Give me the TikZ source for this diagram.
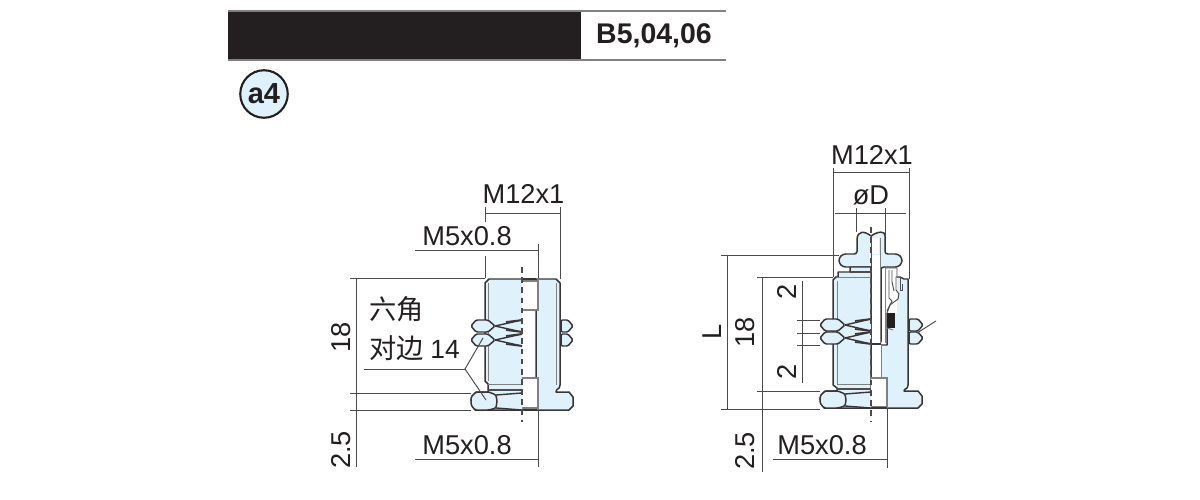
\documentclass[tikz,border=0pt]{standalone}
\usepackage{fontspec}
\setmainfont{Liberation Sans}
\newfontfamily\cjk{Noto Sans CJK SC}
\definecolor{bodyblue}{HTML}{DFF2FB}
\definecolor{inkdark}{HTML}{231F20}
\definecolor{dimgray}{HTML}{4A4A4A}
\definecolor{boregray}{HTML}{808080}
\tikzset{
  outline/.style={draw=inkdark!90,line width=0.85pt,line join=round,fill=bodyblue},
  thinline/.style={draw=boregray,line width=0.55pt},
  dimline/.style={draw=dimgray,line width=0.55pt},
  centerline/.style={draw=dimgray,line width=0.7pt,dash pattern=on 3.2pt off 2.6pt},
  borewhite/.style={draw=boregray,line width=0.7pt,fill=white},
  fanline/.style={draw=inkdark!90,line width=0.8pt},
  label/.style={font=\fontsize{15.5}{15}\selectfont,text=inkdark,inner sep=0pt},
}
% small hex nut, left half: xl, xm, xr, ytop, ybot
\newcommand{\nutleft}[5]{%
  \pgfmathsetmacro{\ymid}{(#4+#5)/2}
  \path[fill=bodyblue] (#2,\ymid) -- (#3,#4) -- (#3,#5) -- cycle;
  \draw[fanline] (#2,\ymid) -- (#3,#4) (#2,\ymid) -- (#3,#5);
  \draw[fanline,line width=1pt] (#3-16,#4+2) -- (#3,#4) (#3-16,#5-2) -- (#3,#5);
  \path[outline,rounded corners=0.8pt] (#1,\ymid) -- (#1+5,#4) -- (#2-7,#4) -- (#2,\ymid) -- (#2-7,#5) -- (#1+5,#5) -- cycle;
}
% flange hex, left half: xl, xm, xr, ytop, ybot
\newcommand{\flangeleft}[5]{%
  \path[fill=bodyblue] (#2,#4+3) -- (#3,#4) -- (#3,#5) -- (#2,#5-2) -- cycle;
  \draw[fanline] (#2,#4+3) -- (#3,#4+1) (#2,#5-2) -- (#3,#5);
  \path[outline,rounded corners=0.8pt] (#1,#4+5) -- (#1+5,#4) -- (#2-7,#4) -- (#2,#4+3) -- (#2+1,#4+9) -- (#2,#5-2) -- (#2-7,#5) -- (#1+4,#5) -- (#1,#5-5) -- cycle;
}
\newcommand{\nutright}[4]{% xl, xr, ytop, ybot
  \pgfmathsetmacro{\ymid}{(#3+#4)/2}
  \path[outline,rounded corners=0.8pt] (#1,#3) -- (#2-5,#3) -- (#2,\ymid) -- (#2-5,#4) -- (#1,#4) -- cycle;
}
\begin{document}
\begin{tikzpicture}[x=0.02cm,y=-0.02cm]
\useasboundingbox (0,0) rectangle (1200,500);
\fill[white] (0,0) rectangle (1200,500);

% ---------- header ----------
\fill[inkdark] (228,11) rectangle (581,60);
\draw[boregray,line width=0.8pt] (228,11) -- (726,11) (228,60) -- (726,60);
\node[font=\fontsize{16.2}{16}\bfseries\selectfont,text=inkdark,inner sep=0pt] (series) at (654,36) {B5,04,06};
\node[circle,draw=inkdark,line width=1.2pt,fill=bodyblue,minimum size=0.95cm,inner sep=0pt,font=\fontsize{16.5}{15}\bfseries\selectfont,text=inkdark] (badge) at (264,94) {a4};

% ---------- left drawing ----------
\path[outline] (536,279) -- (556,279) -- (560,283) -- (560,385) .. controls (560,390) and (556,388) .. (556,392) -- (569,392) -- (573,397) -- (573,406) -- (569,410) -- (536,410) -- cycle;
\path[outline] (522,279) -- (489,279) -- (485,283) -- (485,381) -- (488,384) -- (488,392) -- (476,392) -- (471,400) -- (475,410) -- (522,410);
\fill[white] (522,280) rectangle (535,409);
\draw[thinline] (535,279) -- (535,410);
\draw[thinline] (488,283) -- (488,381);
\draw[thinline] (556,283) -- (556,385);
\draw[inkdark!90,line width=0.8pt] (522,279) -- (536,279) (522,410) -- (536,410);
\draw[borewhite] (522,281) -- (538,281) -- (538,310) -- (522,310);
\draw[borewhite] (522,378) -- (538,378) -- (538,408) -- (522,408);
\draw[thinline] (488,384) -- (522,384);
\draw[inkdark!80,line width=0.7pt] (488,390) -- (522,390);
\nutleft{471}{495}{522}{320}{332}
\nutleft{471}{495}{522}{334}{346}
\flangeleft{471}{496}{522}{392}{410}
\nutright{561}{573}{320}{332}
\nutright{561}{573}{334}{346}
\draw[centerline] (522,267) -- (522,422);

% left dimensions
\draw[dimline] (350,278) -- (485,278);
\draw[dimline] (350,393) -- (471,393);
\draw[dimline] (350,410) -- (471,410);
\draw[dimline] (356,278) -- (356,467);
\draw[dimline] (485,207) -- (485,222) (485,256) -- (485,278);
\draw[dimline] (560,207) -- (560,279);
\draw[dimline] (485,213) -- (560,213);
\draw[dimline] (415,250) -- (538,250);
\draw[dimline] (538,244) -- (538,278) (538,410) -- (538,467);
\draw[dimline] (415,459) -- (538,459);
\draw[dimline] (364,369) coordinate (leadstart) -- (465,369) coordinate (leadfork);
\coordinate (leadup) at (483,338);
\coordinate (leaddown) at (486,400);
\draw[dimline] (leadup) -- (leadfork) -- (leaddown);

\node[label] (lm12) at (523.5,194) {M12x1};
\node[label] (lm5top) at (467,236) {M5x0.8};
\node[label] (lm5bot) at (467,445) {M5x0.8};
\node[label,rotate=90] (l18) at (341,337) {18};
\node[label,rotate=90] (l25) at (341,450) {2.5};
\node[label,font=\cjk\fontsize{15.5}{15}\selectfont] (lhexa) at (396.5,309) {六角};
\node[label,font=\cjk\fontsize{15.5}{15}\selectfont] (lhexb) at (396.5,348) {对边};
\node[label,font=\fontsize{15}{15}\selectfont] (lhexc) at (445,349) {14};

% ---------- right drawing ----------
% right half
\path[outline] (887,277) -- (900,277) -- (904,279) -- (908,279) -- (908,385) .. controls (908,390) and (904,388) .. (904,391) -- (918,391) -- (922,396) -- (922,404) -- (918,408) -- (881,408) -- (881,345) -- (887,345) -- cycle;
% tube on the right of the axis
\path[outline,rounded corners=1.5pt] (871,254) -- (871,344) -- (881,344) -- (881,267) -- (898,267) -- (902,263) -- (902,258) -- (898,254) -- (885,254) -- (885,238) [sharp corners] .. controls (885,231) and (878,231) .. (871,236) -- cycle;
% left half
\path[outline,rounded corners=1.5pt] (871,236) [sharp corners] .. controls (865,231) and (857,230) .. (857,240) [rounded corners=1.5pt] -- (857,254) -- (843,254) -- (839,258) -- (839,263) -- (843,267) -- (871,267);
\path[outline] (850,267) -- (850,272) -- (838,272) -- (838,277) -- (836,277) -- (833,280) -- (833,385) -- (837,388) -- (837,391) -- (825,391) -- (820,399) -- (824,408) -- (871,408) -- (871,267) -- cycle;
\fill[white] (872,255) rectangle (880,343);
\fill[white] (872,238) rectangle (879,254);
\fill[white] (871.5,345) rectangle (880.5,378);
\draw[thinline] (880,238) -- (880,344);
\draw[thinline] (881,345) -- (881,380);
\draw[inkdark!90,line width=0.7pt] (871,344) -- (881,344);
\draw[borewhite] (871,378) -- (887,378) -- (887,407) -- (871,407);
\draw[inkdark!90,line width=0.8pt] (871,408) -- (887,408);
\draw[thinline] (837,281) -- (837,385) (838,277) -- (871,277) (837,384) -- (871,384);
\draw[inkdark!80,line width=0.7pt] (837,389) -- (871,389) (850,272) -- (871,272);
% valve detail
\fill[white] (885,268) rectangle (897,313);
\draw[thinline,draw=inkdark!80] (885,268) -- (897,268) -- (897,277) -- (896,277) -- (896,290) -- (899,294) -- (898,299) -- (890,305) -- (887,313);
\draw[thinline] (885,268) -- (885,343);
\draw[thinline,draw=inkdark!80] (889,270) -- (889,298) -- (892,301) -- (887,311);
\draw[thinline,draw=inkdark!80] (892,270) -- (892,282) -- (894,291);
\draw[thinline,draw=inkdark!80] (900,277) -- (900,290) -- (902,290) -- (902,284);
\fill[inkdark] (887,313) rectangle (895,328);
\draw[thinline] (887,328) -- (893,330);
\nutleft{820}{845}{871}{319}{331}
\nutleft{820}{845}{871}{332}{344}
\flangeleft{820}{845}{871}{391}{408}
\nutright{909}{923}{319}{331}
\nutright{909}{923}{332}{344}
\draw[centerline] (871,227) -- (871,421);

% right dimensions
\draw[dimline] (833,168) -- (833,277);
\draw[dimline] (909,168) -- (909,279);
\draw[dimline] (833,172) -- (909,172);
\draw[dimline] (835,213) -- (906,213);
\draw[dimline] (856,208) -- (856,232);
\draw[dimline] (885,208) -- (885,235);
\draw[dimline] (721,255) -- (839,255);
\draw[dimline] (757,277) -- (833,277);
\draw[dimline] (721,409) -- (820,409);
\draw[dimline] (757,391) -- (820,391);
\draw[dimline] (727,255) -- (727,409);
\draw[dimline] (762,277) -- (762,472);
\draw[dimline] (802,281) -- (802,383);
\draw[dimline] (797,320) -- (820,320) (797,333) -- (820,333) (797,345) -- (820,345);
\draw[dimline] (773,459) -- (887,459);
\draw[dimline] (887,408) -- (887,468);
\draw[dimline] (917,333) -- (936,321);

\node[label] (rm12) at (872,155) {M12x1};
\node[label] (rphid) at (871,195) {øD};
\node[label] (rm5) at (822,445) {M5x0.8};
\node[label,rotate=90] (rL) at (712,332) {L};
\node[label,rotate=90] (r18) at (745,332) {18};
\node[label,rotate=90] (r25) at (745,451) {2.5};
\node[label,rotate=90] (r2a) at (787,292) {2};
\node[label,rotate=90] (r2b) at (787,372) {2};
\end{tikzpicture}
\end{document}
